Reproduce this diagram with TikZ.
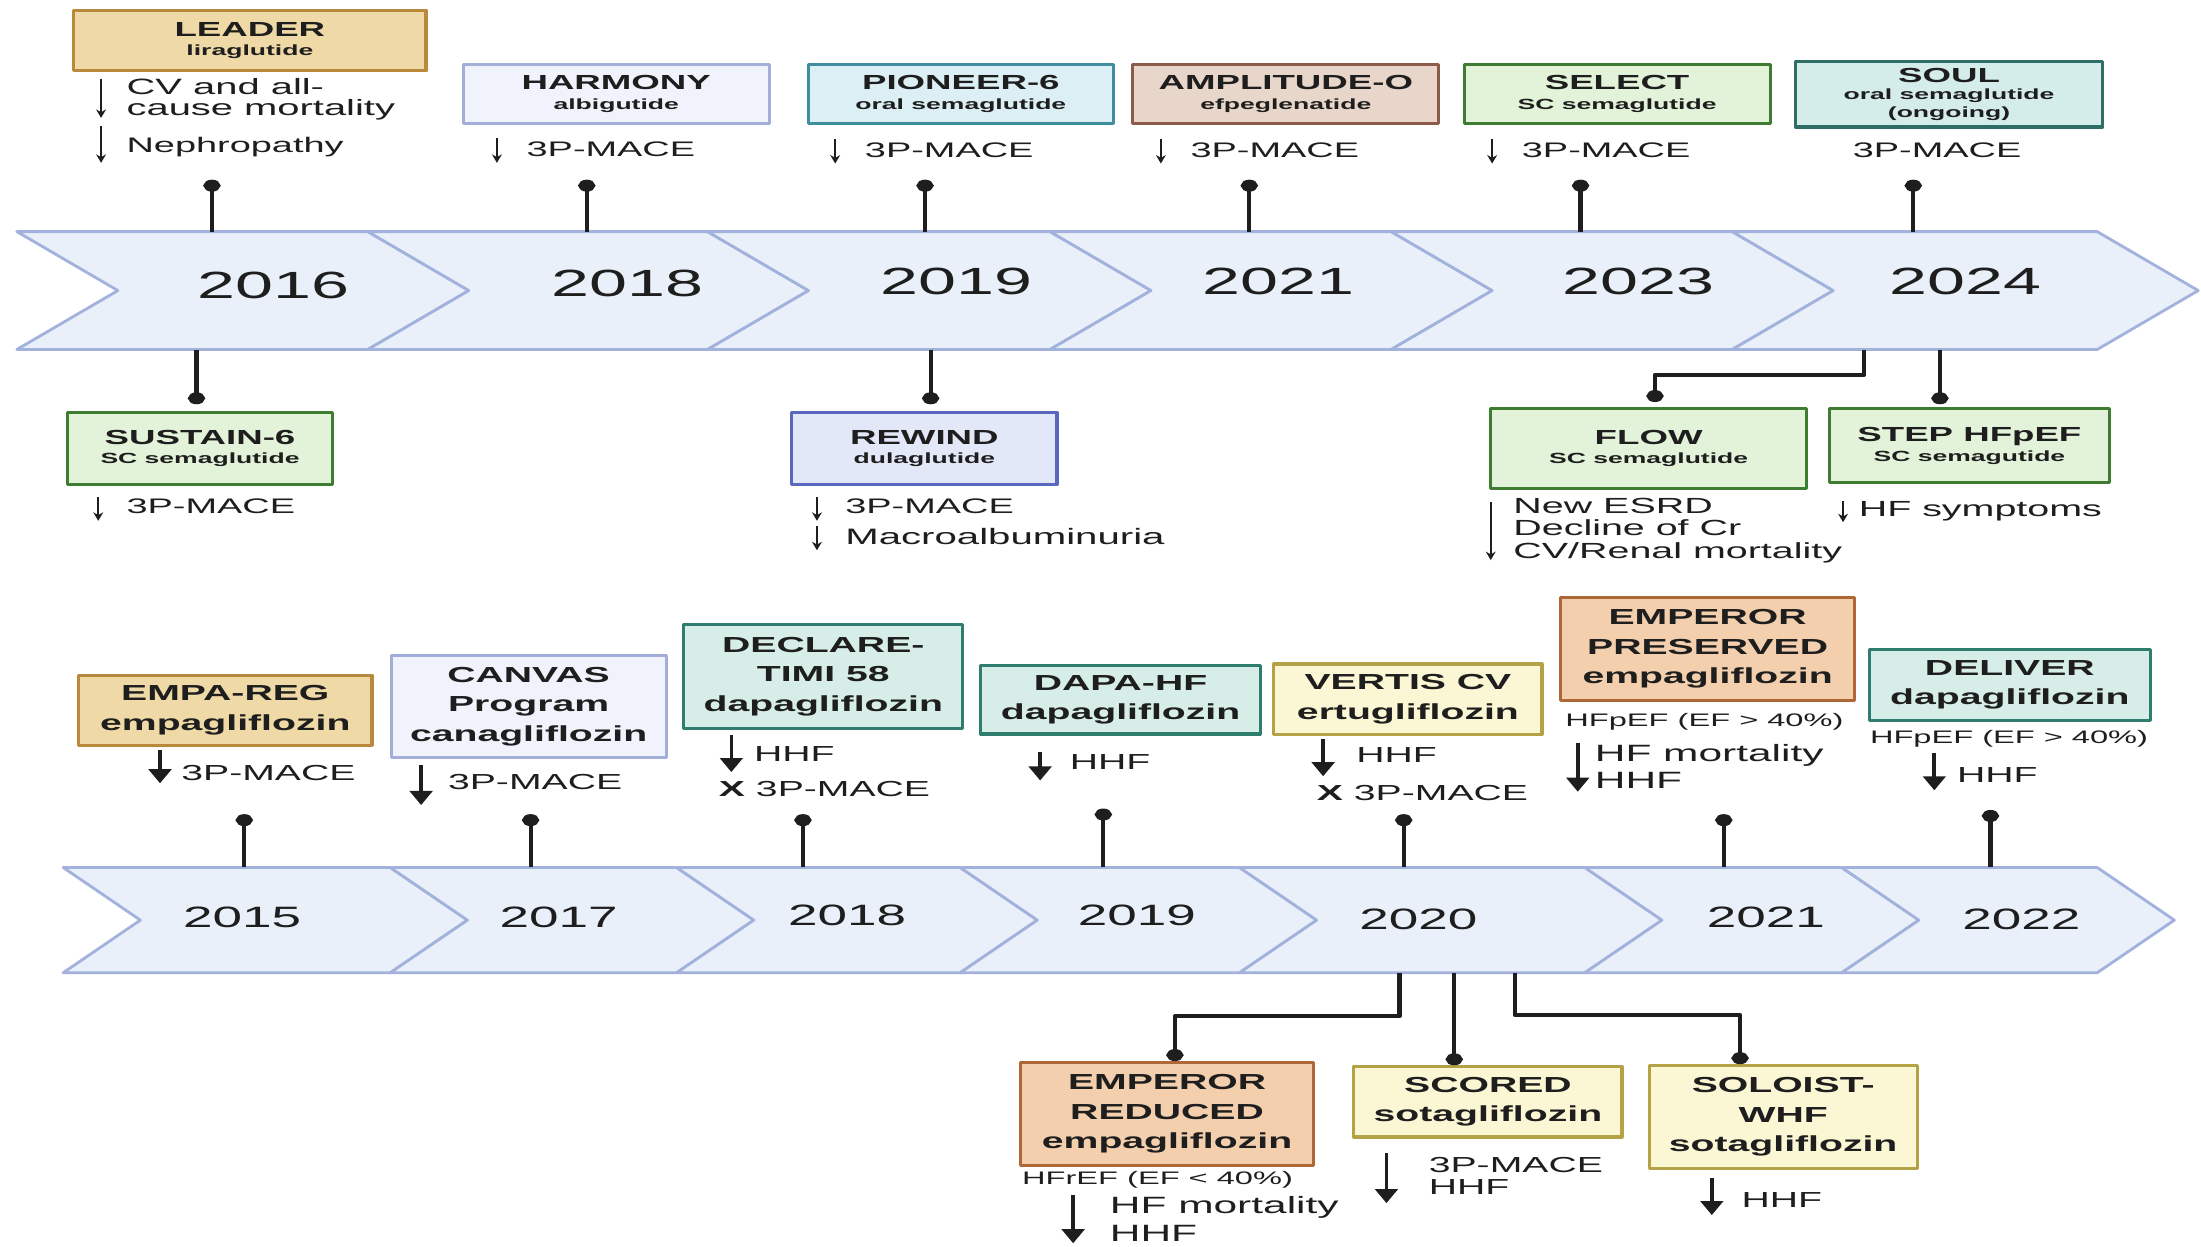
\documentclass[tikz,border=0pt]{standalone}
\usepackage{fontspec}
\setmainfont[FakeStretch=1.8]{Liberation Sans}
\usepackage{xcolor}
\usepackage{tikz}
\usetikzlibrary{arrows.meta,positioning}

\definecolor{bandfill}{HTML}{EAF0FA}
\definecolor{bandline}{HTML}{A2B2DC}
\definecolor{sandfill}{HTML}{EFD9A6}
\definecolor{sandline}{HTML}{B98A3C}
\definecolor{mistfill}{HTML}{F0F3FB}
\definecolor{mistline}{HTML}{A3AED9}
\definecolor{aquafill}{HTML}{DBEFF5}
\definecolor{aqualine}{HTML}{3F8E9E}
\definecolor{clayfill}{HTML}{E9D6CA}
\definecolor{clayline}{HTML}{8C5B4A}
\definecolor{leaffill}{HTML}{E3F3DA}
\definecolor{leafline}{HTML}{3E7C31}
\definecolor{seafill}{HTML}{D5EDEA}
\definecolor{sealine}{HTML}{2E6E66}
\definecolor{periwfill}{HTML}{E3E8F8}
\definecolor{periwline}{HTML}{5968BE}
\definecolor{jadefill}{HTML}{D6EEE7}
\definecolor{jadeline}{HTML}{2F7D6E}
\definecolor{lemonfill}{HTML}{FBF6D3}
\definecolor{lemonline}{HTML}{B3A246}
\definecolor{peachfill}{HTML}{F3CFAE}
\definecolor{peachline}{HTML}{AE6838}
\definecolor{ink}{HTML}{1E1E1E}

\newcommand{\trialname}[1]{{\fontsize{14.5}{16}\selectfont #1}}

\begin{document}
\begin{tikzpicture}[x=1pt, y=-1pt, text=ink, line join=round]
	\tikzstyle{band}=[fill=bandfill, draw=bandline, line width=2pt]
	\tikzstyle{year}=[anchor=base, inner sep=0pt, font=\fontsize{27}{27}\selectfont]
	\tikzstyle{yearb}=[year, font=\fontsize{21}{21}\selectfont]
	\tikzstyle{trial}=[draw, line width=2.2pt, align=center, inner sep=0pt]
	\tikzstyle{toptrial}=[trial, font=\fontsize{10.5}{14}\selectfont\bfseries]
	\tikzstyle{bottrial}=[trial, font=\fontsize{15.5}{21}\selectfont\bfseries]
	\tikzstyle{outcome}=[anchor=west, inner sep=0pt, align=left, font=\fontsize{15}{15}\selectfont]
	\tikzstyle{outcomeb}=[outcome, font=\fontsize{15.5}{20}\selectfont]
	\tikzstyle{ef}=[outcome, font=\fontsize{12.9}{13}\selectfont]
	\tikzstyle{lollipop}=[-{Circle[length=8.5pt,width=12pt]}, line width=3pt, draw=ink]
	\tikzstyle{fall}=[-{Stealth[length=6pt,width=7pt]}, line width=1.4pt, draw=ink]
	\tikzstyle{fallbold}=[-{Triangle[length=10pt,width=16pt]}, line width=2.6pt, draw=ink]
	\tikzstyle{sandy}=[fill=sandfill, draw=sandline]
	\tikzstyle{misty}=[fill=mistfill, draw=mistline]
	\tikzstyle{aqua}=[fill=aquafill, draw=aqualine]
	\tikzstyle{clay}=[fill=clayfill, draw=clayline]
	\tikzstyle{leafy}=[fill=leaffill, draw=leafline]
	\tikzstyle{sea}=[fill=seafill, draw=sealine]
	\tikzstyle{periw}=[fill=periwfill, draw=periwline]
	\tikzstyle{jade}=[fill=jadefill, draw=jadeline]
	\tikzstyle{lemon}=[fill=lemonfill, draw=lemonline]
	\tikzstyle{peach}=[fill=peachfill, draw=peachline]

	\fill[white] (0,0) rectangle (1568,888);
	\useasboundingbox (0,0) rectangle (1568,888);

	% GLP-1 timeline
	\foreach \a/\b in {12/262, 262/504, 504/748, 748/991, 991/1234, 1234/1494}
		\draw[band] (\a,165) -- (\b,165) -- ++(72,42) -- (\b,249) -- (\a,249) -- ++(72,-42) -- cycle;
	\coordinate (bandA-top) at (0,165);
	\coordinate (bandA-bot) at (0,249);

	\node[year] (ya2016) at (195,212.6) {2016};
	\node[year] (ya2018) at (447,211) {2018};
	\node[year] (ya2019) at (681.5,210) {2019};
	\node[year] (ya2021) at (911,210) {2021};
	\node[year] (ya2023) at (1167,210) {2023};
	\node[year] (ya2024) at (1400,210) {2024};

	\node[toptrial, sandy, minimum width=251pt, minimum height=43pt] (leader) at (178,29) {\trialname{LEADER}\\liraglutide};
	\node[toptrial, misty, minimum width=218pt, minimum height=42pt] (harmony) at (439,67) {\trialname{HARMONY}\\albigutide};
	\node[toptrial, aqua, minimum width=217pt, minimum height=42pt] (pioneer) at (684.5,67) {\trialname{PIONEER-6}\\oral semaglutide};
	\node[toptrial, clay, minimum width=218pt, minimum height=42pt] (amplitude) at (916,67) {\trialname{AMPLITUDE-O}\\efpeglenatide};
	\node[toptrial, leafy, minimum width=218pt, minimum height=42pt] (select) at (1152,67) {\trialname{SELECT}\\SC semaglutide};
	\node[toptrial, sea, minimum width=219pt, minimum height=47pt, font=\fontsize{10.5}{12.5}\selectfont\bfseries] (soul) at (1388.5,67) {\trialname{SOUL}\\oral semaglutide\\(ongoing)};
	\node[toptrial, leafy, minimum width=189pt, minimum height=51pt] (sustain) at (142.5,319.5) {\trialname{SUSTAIN-6}\\SC semaglutide};
	\node[toptrial, periw, minimum width=189pt, minimum height=51pt] (rewind) at (658.5,319.5) {\trialname{REWIND}\\dulaglutide};
	\node[toptrial, leafy, minimum width=225pt, minimum height=57pt] (flow) at (1174.5,319.5) {\trialname{FLOW}\\SC semaglutide};
	\node[toptrial, leafy, minimum width=200pt, minimum height=53pt] (step) at (1403,317.5) {\trialname{STEP HFpEF}\\SC semagutide};

	\node[outcome, font=\fontsize{15.8}{15}\selectfont] (leader-cv) at (90,70.5) {CV and all-\\cause mortality};
	\node[outcome] (leader-neph) at (90,104.5) {Nephropathy};
	\node[outcome] (harmony-out) at (375,106.5) {3P-MACE};
	\node[outcome] (pioneer-out) at (616,107) {3P-MACE};
	\node[outcome] (amplitude-out) at (848,107) {3P-MACE};
	\node[outcome] (select-out) at (1084,107) {3P-MACE};
	\node[outcome, anchor=center] (soul-out) at (1380,107) {3P-MACE};
	\node[outcome] (sustain-out) at (90,361) {3P-MACE};
	\node[outcome] (rewind-mace) at (602,361) {3P-MACE};
	\node[outcome, font=\fontsize{15.9}{15}\selectfont] (rewind-macro) at (602,382) {Macroalbuminuria};
	\node[outcome, font=\fontsize{15.6}{16}\selectfont] (flow-out) at (1078,378) {New ESRD\\Decline of Cr\\CV/Renal mortality};
	\node[outcome, font=\fontsize{15.6}{15}\selectfont] (step-out) at (1324,364) {HF symptoms};

	\draw[fall] ([shift={(-18,-14.5)}]leader-cv.west) -- ++(0,28);
	\draw[fall] ([shift={(-18,-14.5)}]leader-neph.west) -- ++(0,26);
	\foreach \n in {harmony-out, pioneer-out, amplitude-out, select-out}
		\draw[fall] ([shift={(-21,-8)}]\n.west) -- ++(0,17.5);
	\foreach \n in {sustain-out, rewind-mace, rewind-macro}
		\draw[fall] ([shift={(-20,-7)}]\n.west) -- ++(0,17);
	\draw[fall] ([shift={(-16,-20.5)}]flow-out.west) -- ++(0,41.5);
	\draw[fall] ([shift={(-11,-7)}]step-out.west) -- ++(0,15);

	\foreach \n/\x in {leader/151, harmony/418, pioneer/659, amplitude/890, select/1126, soul/1363} {
		\coordinate (\n-pin) at (\x,128);
		\draw[lollipop] (\n-pin |- bandA-top) -- (\n-pin);
	}
	\foreach \n/\x in {sustain/140, rewind/663, step/1382} {
		\coordinate (\n-pin) at (\x,288);
		\draw[lollipop] (\n-pin |- bandA-bot) -- (\n-pin);
	}
	\coordinate (flow-root) at (1328,249);
	\draw[lollipop] (flow-root) -- ++(0,18) -| ([shift={(4.5,-3.5)}]flow.north);

	% SGLT2 timeline
	\foreach \a/\b in {45/278, 278/482, 482/684, 684/883, 883/1129, 1129/1312, 1312/1494}
		\draw[band] (\a,618) -- (\b,618) -- ++(55,37.5) -- (\b,693) -- (\a,693) -- ++(55,-37.5) -- cycle;
	\coordinate (bandB-top) at (0,618);
	\coordinate (bandB-bot) at (0,693);

	\node[yearb] (yb2015) at (172.5,661) {2015};
	\node[yearb] (yb2017) at (398,661) {2017};
	\node[yearb] (yb2018) at (603.5,659) {2018};
	\node[yearb] (yb2019) at (810,659) {2019};
	\node[yearb] (yb2020) at (1010.5,662.5) {2020};
	\node[yearb] (yb2021) at (1258,660.5) {2021};
	\node[yearb] (yb2022) at (1440,662.5) {2022};

	\node[bottrial, sandy, minimum width=209pt, minimum height=50pt] (empareg) at (160.5,506) {EMPA-REG\\empagliflozin};
	\node[bottrial, misty, minimum width=196pt, minimum height=73pt] (canvas) at (376.6,503.3) {CANVAS\\Program\\canagliflozin};
	\node[bottrial, jade, minimum width=199pt, minimum height=74pt] (declare) at (586.5,482) {DECLARE-\\TIMI 58\\dapagliflozin};
	\node[bottrial, jade, minimum width=199pt, minimum height=49pt] (dapa) at (798.3,498.4) {DAPA-HF\\dapagliflozin};
	\node[bottrial, lemon, minimum width=191pt, minimum height=50pt] (vertis) at (1003,498) {VERTIS CV\\ertugliflozin};
	\node[bottrial, peach, minimum width=209pt, minimum height=73pt] (preserved) at (1216.5,462.4) {EMPEROR\\PRESERVED\\empagliflozin};
	\node[bottrial, jade, minimum width=200pt, minimum height=50pt] (deliver) at (1431.8,488) {DELIVER\\dapagliflozin};
	\node[bottrial, peach, minimum width=209pt, minimum height=73pt] (reduced) at (831.4,793.5) {EMPEROR\\REDUCED\\empagliflozin};
	\node[bottrial, lemon, minimum width=191pt, minimum height=50pt] (scored) at (1060,785) {SCORED\\sotagliflozin};
	\node[bottrial, lemon, minimum width=191pt, minimum height=73pt] (soloist) at (1270.3,795.7) {SOLOIST-\\WHF\\sotagliflozin};

	\node[outcomeb] (empareg-out) at (129,551) {3P-MACE};
	\node[outcomeb] (canvas-out) at (319,557) {3P-MACE};
	\node[outcomeb] (declare-hhf) at (537,537) {HHF};
	\node[outcomeb] (declare-mace) at (512,562) {\textbf{X} 3P-MACE};
	\node[outcomeb] (dapa-out) at (762,543) {HHF};
	\node[outcomeb] (vertis-hhf) at (966,538) {HHF};
	\node[outcomeb] (vertis-mace) at (938,565) {\textbf{X} 3P-MACE};
	\node[ef] (preserved-ef) at (1115,514) {HFpEF (EF > 40\%)};
	\node[outcomeb, font=\fontsize{16.8}{19}\selectfont] (preserved-out) at (1136,546) {HF mortality\\HHF};
	\node[ef] (deliver-ef) at (1332,526.6) {HFpEF (EF > 40\%)};
	\node[outcomeb] (deliver-out) at (1394,552) {HHF};
	\node[ef] (reduced-ef) at (728,840.6) {HFrEF (EF < 40\%)};
	\node[outcomeb, font=\fontsize{16.8}{20}\selectfont] (reduced-out) at (790.5,868.5) {HF mortality\\HHF};
	\node[outcomeb, font=\fontsize{15.5}{15.5}\selectfont] (scored-out) at (1017.7,837.7) {3P-MACE\\HHF};
	\node[outcomeb] (soloist-out) at (1240.5,855) {HHF};

	\draw[fallbold] ([shift={(-15,-17)}]empareg-out.west) -- ++(0,24);
	\draw[fallbold] ([shift={(-19,-12)}]canvas-out.west) -- ++(0,28.5);
	\draw[fallbold] ([shift={(-16,-13.4)}]declare-hhf.west) -- ++(0,26.4);
	\draw[fallbold] ([shift={(-21,-7)}]dapa-out.west) -- ++(0,20);
	\draw[fallbold] ([shift={(-23.4,-11.4)}]vertis-hhf.west) -- ++(0,26.4);
	\draw[fallbold] ([shift={(-12,-17)}]preserved-out.west) -- ++(0,35);
	\draw[fallbold] ([shift={(-16,-15.3)}]deliver-out.west) -- ++(0,26.3);
	\draw[fallbold] ([shift={(-26,-17.5)}]reduced-out.west) -- ++(0,34.7);
	\draw[fallbold] ([shift={(-30,-16)}]scored-out.west) -- ++(0,35.4);
	\draw[fallbold] ([shift={(-21,-16)}]soloist-out.west) -- ++(0,26.6);

	\foreach \n/\x/\y in {empareg/174/580, canvas/378/580, declare/572/580, dapa/786/576, vertis/1000/580, preserved/1228/580, deliver/1418/577} {
		\coordinate (\n-pin) at (\x,\y);
		\draw[lollipop] (\n-pin |- bandB-top) -- (\n-pin);
	}
	\coordinate (reduced-root) at (997,693);
	\coordinate (scored-root) at (1036,693);
	\coordinate (soloist-root) at (1079,693);
	\draw[lollipop] (reduced-root) -- ++(0,31) -| ([xshift=5.6pt]reduced.north);
	\draw[lollipop] (scored-root) -- (scored-root |- scored.north);
	\draw[lollipop] (soloist-root) -- ++(0,30) -| ([xshift=-30.7pt]soloist.north);
\end{tikzpicture}
\end{document}
